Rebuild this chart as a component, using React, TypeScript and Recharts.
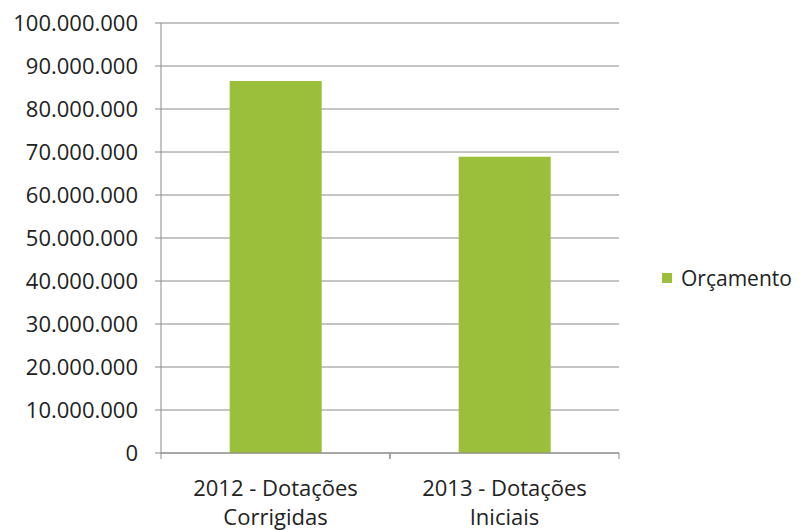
import React from "react";
import { BarChart, Bar, XAxis, YAxis, CartesianGrid, Legend } from "recharts";

const categories = ["2012 - Dotações\nCorrigidas", "2013 - Dotações\nIniciais"];
const orcamento = [86500000, 68900000];
const yTicks = [0, 10000000, 20000000, 30000000, 40000000, 50000000, 60000000, 70000000, 80000000, 90000000, 100000000];
const seriesName = "Orçamento";

const data = categories.map((c, i) => ({ name: c, value: orcamento[i] }));

const FONT = "'Open Sans', sans-serif";
const GRID = "#8a8a8a";
const GREEN = "#9cbf3b";

const fmt = (v: number) => String(v).replace(/\B(?=(\d{3})+(?!\d))/g, ".");

const XTick = (props: any) => {
  const { x, y, payload } = props;
  const off = payload.offset || 0;
  const axisY = y - 8;
  const lines = String(payload.value).split("\n");
  return (
    <g>
      <line x1={x - off} x2={x - off} y1={axisY} y2={axisY + 6} stroke={GRID} />
      <line x1={x + off} x2={x + off} y1={axisY} y2={axisY + 6} stroke={GRID} />
      {lines.map((l, i) => (
        <text key={i} x={x} y={axisY + 43 + i * 29} textAnchor="middle" fill="#222" fontSize={22} fontFamily={FONT}>
          {l}
        </text>
      ))}
    </g>
  );
};

const LegendContent = () => (
  <div style={{ display: "flex", alignItems: "center", fontFamily: FONT, fontSize: 21, color: "#222" }}>
    <span style={{ width: 10, height: 10, background: GREEN, display: "inline-block", marginRight: 9 }} />
    <span>{seriesName}</span>
  </div>
);

export default function App() {
  return (
    <div style={{ position: "absolute", left: 0, top: 0, width: 800, height: 530, background: "#fff" }}>
      <BarChart width={800} height={530} data={data} margin={{ top: 23, right: 181, left: 0, bottom: 0 }} barCategoryGap="30%">
        <CartesianGrid vertical={false} stroke={GRID} strokeWidth={1} />
        <XAxis
          dataKey="name"
          height={77}
          axisLine={{ stroke: GRID }}
          tickLine={false}
          tick={<XTick />}
          interval={0}
        />
        <YAxis
          width={161}
          domain={[0, 100000000]}
          ticks={yTicks}
          tickFormatter={fmt}
          axisLine={{ stroke: GRID }}
          tickLine={{ stroke: GRID }}
          tickSize={6}
          tickMargin={17}
          tick={{ fill: "#222", fontSize: 22, fontFamily: FONT }}
          interval={0}
        />
        <Legend
          content={<LegendContent />}
          layout="horizontal"
          verticalAlign="middle"
          align="center"
          wrapperStyle={{ left: 662, top: 264, width: 140, right: "auto" }}
        />
        <Bar dataKey="value" name={seriesName} fill={GREEN} isAnimationActive={false} />
      </BarChart>
    </div>
  );
}
